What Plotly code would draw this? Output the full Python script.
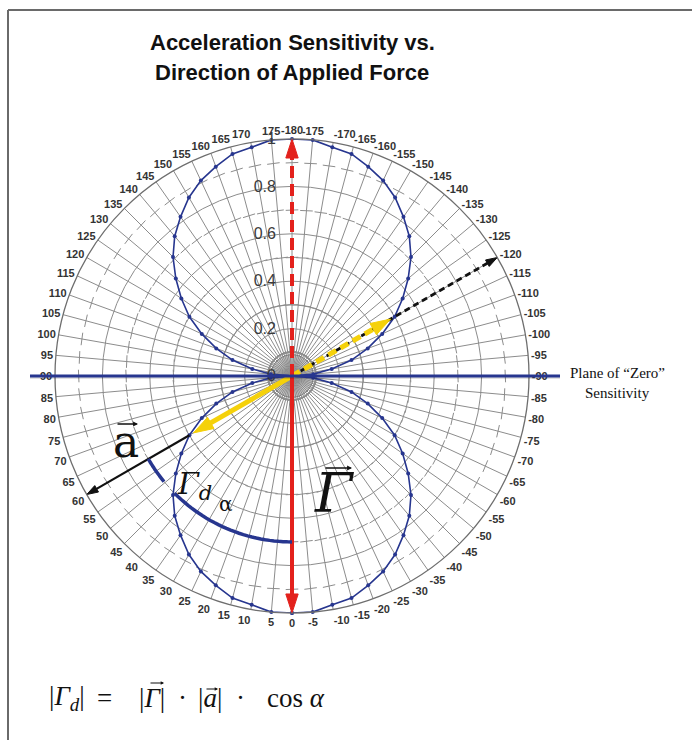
import numpy as np
import plotly.graph_objects as go

# ---- data -------------------------------------------------------------
# Direction of the applied force (degrees) and normalized sensitivity |Γ_d|
angle_deg = [0, 5, 10, 15, 20, 25, 30, 35, 40, 45, 50, 55, 60, 65, 70, 75, 80, 85,
             90, 95, 100, 105, 110, 115, 120, 125, 130, 135, 140, 145, 150, 155, 160,
             165, 170, 175, 180,
             -175, -170, -165, -160, -155, -150, -145, -140, -135, -130, -125, -120,
             -115, -110, -105, -100, -95, -90, -85, -80, -75, -70, -65, -60, -55,
             -50, -45, -40, -35, -30, -25, -20, -15, -10, -5]
sensitivity = [1.00, 1.00, 0.98, 0.97, 0.94, 0.91, 0.87, 0.82, 0.77, 0.71, 0.64, 0.57,
               0.50, 0.42, 0.34, 0.26, 0.17, 0.09,
               0.00, 0.09, 0.17, 0.26, 0.34, 0.42, 0.50, 0.57, 0.64, 0.71, 0.77, 0.82,
               0.87, 0.91, 0.94, 0.97, 0.98, 1.00, 1.00,
               1.00, 0.98, 0.97, 0.94, 0.91, 0.87, 0.82, 0.77, 0.71, 0.64, 0.57, 0.50,
               0.42, 0.34, 0.26, 0.17, 0.09, 0.00, 0.09, 0.17, 0.26, 0.34, 0.42, 0.50,
               0.57, 0.64, 0.71, 0.77, 0.82, 0.87, 0.91, 0.94, 0.97, 0.98, 1.00]

tick_angles = [0, 5, 10, 15, 20, 25, 30, 35, 40, 45, 50, 55, 60, 65, 70, 75, 80, 85,
               90, 95, 100, 105, 110, 115, 120, 125, 130, 135, 140, 145, 150, 155, 160,
               165, 170, 175, -180, -175, -170, -165, -160, -155, -150, -145, -140,
               -135, -130, -125, -120, -115, -110, -105, -100, -95, -90, -85, -80, -75,
               -70, -65, -60, -55, -50, -45, -40, -35, -30, -25, -20, -15, -10, -5]
tick_labels = [str(a) for a in tick_angles]

radial_ticks = [0, 0.2, 0.4, 0.6, 0.8, 1.0]
radial_labels = ["0", "0.2", "0.4", "0.6", "0.8", "1"]
minor_rings = [0.1, 0.3, 0.5, 0.7, 0.9]

# vectors drawn on the diagram: (direction, length)
force_dir, force_len = 60, 0.48        # applied acceleration a
gamma_len = 1.0                        # sensitivity vector Γ

# ---- geometry of the page ---------------------------------------------
W, H = 692, 740
CX, CY, R = 292, 376, 237

NAVY = "#27368f"
RED = "#e3211c"
YELLOW = "#f5d10a"
GRID = "#8c8c8c"


def px(x):
    return x / W


def py(y):
    return 1 - y / H


fig = go.Figure()

# shaded hub at the origin
hub_theta = list(range(0, 361, 10))
fig.add_trace(go.Scatterpolar(
    r=[0.09] * len(hub_theta), theta=hub_theta, mode="lines", fill="toself",
    fillcolor="rgba(140,140,140,0.45)", line=dict(color="#7a7a7a", width=1),
    hoverinfo="skip", showlegend=False))

# short cross ticks on every spoke at the odd tenths
ring_theta = list(range(0, 361, 5))
for rr in minor_rings:
    fig.add_trace(go.Scatterpolar(
        r=[rr] * len(ring_theta), theta=ring_theta, mode="markers",
        marker=dict(symbol="line-ns", size=9, angleref="previous",
                    line=dict(width=1, color=GRID), color=GRID),
        hoverinfo="skip", showlegend=False))

# sensitivity pattern
fig.add_trace(go.Scatterpolar(
    r=sensitivity + [sensitivity[0]], theta=angle_deg + [angle_deg[0]],
    mode="lines+markers", line=dict(color=NAVY, width=1.6),
    marker=dict(color=NAVY, size=4), showlegend=False, hoverinfo="skip"))


def arrow(r0, r1, theta, color, width, dash="solid", head=16):
    fig.add_trace(go.Scatterpolar(
        r=[r0, r1], theta=[theta, theta], mode="lines+markers",
        line=dict(color=color, width=width, dash=dash),
        marker=dict(symbol="arrow", size=[0, head], color=color, opacity=1,
                    angleref="previous", line=dict(width=1, color=color)),
        hoverinfo="skip", showlegend=False))


# black dashed extension of the force line and the a-vector
arrow(0, 1.0, force_dir + 180, "#111111", 2.6, dash="6px,4px", head=12)
arrow(force_len + 0.02, 1.0, force_dir, "#111111", 2.2, head=12)

# yellow double-headed force arrow
arrow(0, force_len, force_dir, YELLOW, 5, head=21)
arrow(0, force_len, force_dir + 180, YELLOW, 5, dash="9px,5px", head=21)

# red Γ vector
arrow(0, gamma_len, 180, RED, 4, dash="12px,6px", head=20)
arrow(0, gamma_len, 0, RED, 4, head=20)

# angle arc α between Γ and a, broken for the Γ_d label
for a0, a1 in [(0, 45), (50.5, 60)]:
    th = list(np.linspace(a0, a1, 30))
    fig.add_trace(go.Scatterpolar(
        r=[0.7] * len(th), theta=th, mode="lines",
        line=dict(color=NAVY, width=3.5), hoverinfo="skip", showlegend=False))

fig.update_layout(
    width=W, height=H, margin=dict(l=0, r=0, t=0, b=0),
    paper_bgcolor="white", showlegend=False,
    polar=dict(
        domain=dict(x=[px(CX - R), px(CX + R)], y=[py(CY + R), py(CY - R)]),
        bgcolor="white",
        angularaxis=dict(
            rotation=270, direction="clockwise", tickmode="array",
            tickvals=[a % 360 for a in tick_angles], ticktext=tick_labels,
            ticks="",
            tickfont=dict(family="Liberation Sans", size=11, color="#333333",
                          weight="bold"),
            showline=True, linecolor="#6e6e6e", linewidth=1.3,
            showgrid=True, gridcolor=GRID, gridwidth=1),
        radialaxis=dict(
            range=[0, 1], tickmode="array", tickvals=radial_ticks,
            ticktext=radial_labels, angle=90, side="counterclockwise",
            tickangle=90, ticks="outside", ticklen=10,
            tickcolor="rgba(0,0,0,0)",
            showline=False, gridcolor=GRID, gridwidth=1,
            tickfont=dict(family="Liberation Sans", size=16, color="#3a3a3a")),
    ),
)

# plane of zero sensitivity (with a soft shadow)
fig.add_shape(type="line", xref="paper", yref="paper",
              x0=px(30), x1=px(560), y0=py(CY + 2), y1=py(CY + 2),
              line=dict(color="rgba(0,0,0,0.12)", width=2), layer="above")
fig.add_shape(type="line", xref="paper", yref="paper",
              x0=px(30), x1=px(560), y0=py(CY), y1=py(CY),
              line=dict(color=NAVY, width=3), layer="above")

# frame
fig.add_shape(type="line", xref="paper", yref="paper",
              x0=px(8), x1=1, y0=py(10), y1=py(10),
              line=dict(color="#6a6a6a", width=2))
fig.add_shape(type="line", xref="paper", yref="paper",
              x0=px(8), x1=px(8), y0=py(10), y1=0,
              line=dict(color="#6a6a6a", width=2))


def label(x, y, text, size, family="DejaVu Serif", color="#111111",
          xanchor="center", weight="normal"):
    fig.add_annotation(x=px(x), y=py(y), xref="paper", yref="paper",
                       text=text, showarrow=False, xanchor=xanchor,
                       yanchor="middle",
                       font=dict(family=family, size=size, color=color,
                                 weight=weight))


def vec_arrow(x_tip, y, length, width=1.4, size=0.7):
    # small "vector" arrow drawn above a symbol
    fig.add_annotation(x=px(x_tip), y=py(y), xref="paper", yref="paper",
                       text="", showarrow=True, ax=-length, ay=0,
                       arrowhead=2, arrowsize=size, arrowwidth=width,
                       arrowcolor="#111111", standoff=0, startstandoff=0)


label(292, 43, "Acceleration Sensitivity vs.", 22, family="Liberation Sans",
      weight="bold")
label(292, 72, "Direction of Applied Force", 22, family="Liberation Sans",
      weight="bold")

label(617, 373, "Plane of \u201cZero\u201d", 15, family="Liberation Serif")
label(617, 393, "Sensitivity", 15, family="Liberation Serif")

# vector symbols on the diagram
label(126, 441, "a", 44)
vec_arrow(138, 424, 22)
label(334, 494, "<i>\u0393</i>", 54)
vec_arrow(352, 468, 28)
label(194, 485, "<i>\u0393</i><sub><i>d</i></sub>", 30)
label(226, 504, "\u03b1", 20)

# |Γ_d| = |Γ| · |a| · cos α
FY = 698
FS = 27
label(47, FY, "|<i>\u0393</i><sub><i>d</i></sub>|", FS, xanchor="left",
      family="Liberation Serif")
label(104, FY, "=", FS, family="Liberation Serif")
label(152, FY, "|<i>\u0393</i>|", FS, family="Liberation Serif")
vec_arrow(164, 683, 15, width=1.1, size=0.6)
label(182, FY, "\u00b7", FS, family="Liberation Serif")
label(210, FY, "|<i>a</i>|", FS, family="Liberation Serif")
vec_arrow(218, 689, 13, width=1.1, size=0.6)
label(240, FY, "\u00b7", FS, family="Liberation Serif")
label(265, FY, "cos <i>\u03b1</i>", FS, xanchor="left", family="Liberation Serif")

fig.write_html("out.html")
